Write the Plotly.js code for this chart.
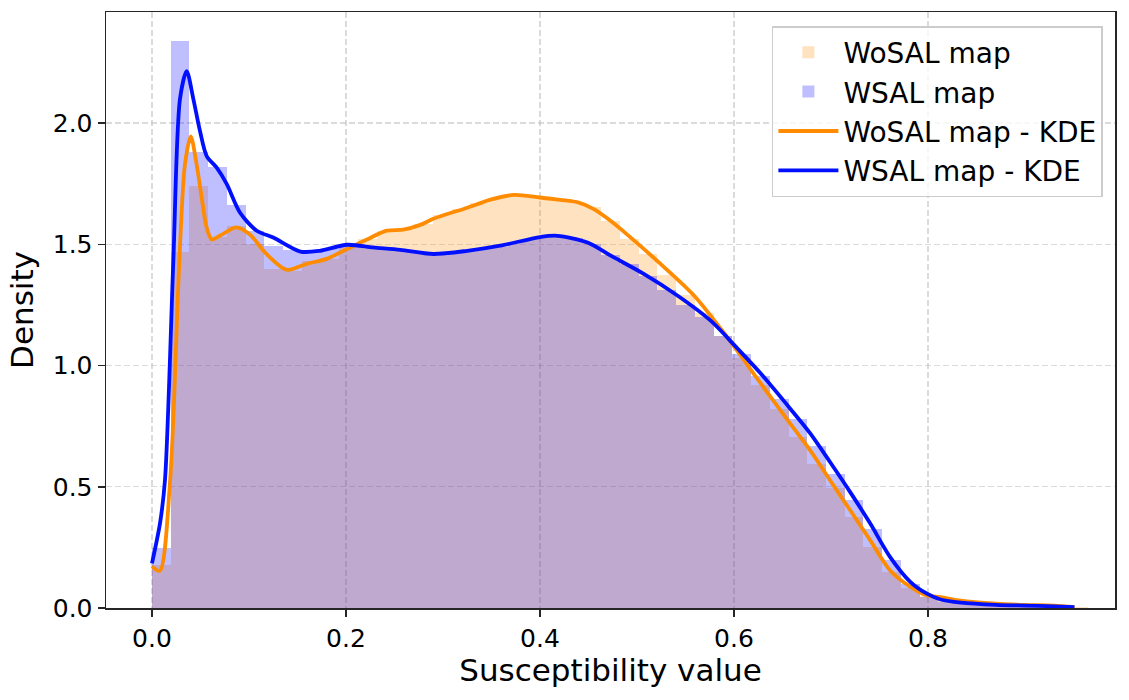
<!DOCTYPE html>
<html>
<head>
<meta charset="utf-8">
<script src="https://cdn.plot.ly/plotly-3.0.1.min.js"></script>
<style>
  html, body { margin: 0; padding: 0; background: #ffffff; }
  #chart { width: 1129px; height: 700px; }
</style>
</head>
<body>
<div id="chart"></div>
<script>
// ---- Data ----
const binWidth = 0.0193;
const binCount = 50;

const wosalHist = [
  0.177, 1.47, 1.74, 1.53, 1.576, 1.50, 1.40, 1.39, 1.43, 1.44,
  1.50, 1.52, 1.555, 1.56, 1.585, 1.62, 1.645, 1.67, 1.69, 1.705,
  1.695, 1.685, 1.676, 1.652, 1.595, 1.523, 1.458, 1.372, 1.29, 1.215,
  1.12, 1.03, 0.92, 0.82, 0.705, 0.595, 0.496, 0.375, 0.252, 0.148,
  0.084, 0.05, 0.035, 0.022, 0.015, 0.012, 0.01, 0.01, 0.008, 0.004
];

const wsalHist = [
  0.246, 2.337, 1.88, 1.82, 1.66, 1.556, 1.494, 1.475, 1.47, 1.48,
  1.50, 1.49, 1.48, 1.475, 1.465, 1.462, 1.47, 1.48, 1.49, 1.51,
  1.528, 1.535, 1.525, 1.50, 1.455, 1.42, 1.37, 1.31, 1.25, 1.20,
  1.12, 1.046, 0.955, 0.864, 0.778, 0.667, 0.551, 0.447, 0.325, 0.2,
  0.098, 0.045, 0.025, 0.016, 0.012, 0.009, 0.007, 0.006, 0.004, 0.002
];

const wosalKdeX = [0.000, 0.008, 0.0186, 0.0282, 0.034, 0.040, 0.046, 0.0513, 0.0564, 0.0616,
  0.070, 0.087, 0.101, 0.118, 0.139, 0.160, 0.180, 0.201, 0.2216, 0.242,
  0.259, 0.2766, 0.290, 0.325, 0.350, 0.373, 0.400, 0.421, 0.440, 0.4556,
  0.470, 0.490, 0.524, 0.559, 0.593, 0.6276, 0.658, 0.6786, 0.699, 0.7198,
  0.7405, 0.761, 0.782, 0.799, 0.813, 0.834, 0.870, 0.900, 0.930, 0.951];
const wosalKdeY = [0.172, 0.153, 0.52, 1.43, 1.83, 1.945, 1.83, 1.69, 1.569, 1.52,
  1.535, 1.57, 1.54, 1.46, 1.395, 1.42, 1.44, 1.48, 1.52, 1.556,
  1.56, 1.58, 1.605, 1.651, 1.685, 1.704, 1.693, 1.683, 1.672, 1.645,
  1.605, 1.54, 1.42, 1.288, 1.117, 0.926, 0.76, 0.65, 0.527, 0.403,
  0.279, 0.155, 0.087, 0.052, 0.045, 0.03, 0.018, 0.013, 0.01, 0.004];

const wsalKdeX = [0.000, 0.0083, 0.0134, 0.022, 0.0289, 0.0358, 0.0426, 0.0495, 0.0564, 0.0667,
  0.077, 0.0908, 0.108, 0.125, 0.153, 0.173, 0.201, 0.228, 0.256, 0.290,
  0.325, 0.359, 0.400, 0.418, 0.449, 0.473, 0.507, 0.542, 0.576, 0.6036,
  0.6276, 0.658, 0.6786, 0.699, 0.7198, 0.7405, 0.761, 0.782, 0.799, 0.813,
  0.834, 0.870, 0.900, 0.930, 0.951];
const wsalKdeY = [0.184, 0.35, 0.527, 1.43, 2.10, 2.214, 2.10, 1.967, 1.864, 1.816,
  1.749, 1.63, 1.556, 1.528, 1.47, 1.473, 1.498, 1.487, 1.477, 1.46,
  1.473, 1.494, 1.53, 1.535, 1.507, 1.453, 1.378, 1.288, 1.185, 1.07,
  0.967, 0.822, 0.72, 0.602, 0.478, 0.348, 0.21, 0.107, 0.059, 0.035,
  0.022, 0.013, 0.01, 0.007, 0.004];

const xTicks = [0, 0.2, 0.4, 0.6, 0.8];
const yTicks = [0, 0.5, 1.0, 1.5, 2.0];
const seriesNames = ['WoSAL map', 'WSAL map', 'WoSAL map - KDE', 'WSAL map - KDE'];

// bin centres built from bin width/count
const binCenters = [];
for (let k = 0; k < binCount; k++) binCenters.push((k + 0.5) * binWidth);

const FONT = 'DejaVu Sans, Liberation Sans, sans-serif';

const traces = [
  {
    type: 'bar', name: seriesNames[0], x: binCenters, y: wosalHist, width: binWidth,
    marker: { color: 'rgba(255,140,0,0.25)', line: { width: 0 } }
  },
  {
    type: 'bar', name: seriesNames[1], x: binCenters, y: wsalHist, width: binWidth,
    marker: { color: 'rgba(0,0,255,0.25)', line: { width: 0 } }
  },
  {
    type: 'scatter', mode: 'lines', name: seriesNames[2], x: wosalKdeX, y: wosalKdeY,
    line: { color: '#ff8c00', width: 3.8, shape: 'spline', smoothing: 0.8 }
  },
  {
    type: 'scatter', mode: 'lines', name: seriesNames[3], x: wsalKdeX, y: wsalKdeY,
    line: { color: '#0010ff', width: 3.8, shape: 'spline', smoothing: 0.8 }
  }
];

const axisCommon = {
  showline: true, linecolor: '#262626', linewidth: 1.5, mirror: true,
  ticks: 'outside', ticklen: 7, tickwidth: 1.5, tickcolor: '#262626',
  showgrid: true, gridcolor: 'rgba(190,190,190,0.55)', gridwidth: 1.2, griddash: '6px,3px',
  zeroline: false, tickfont: { family: FONT, size: 25, color: '#000000' },
  tickformat: '.1f'
};

const layout = {
  width: 1129, height: 700,
  margin: { l: 106, r: 14, t: 12, b: 92 },
  paper_bgcolor: '#ffffff', plot_bgcolor: '#ffffff',
  barmode: 'overlay', bargap: 0,
  font: { family: FONT, color: '#000000' },
  xaxis: Object.assign({}, axisCommon, {
    range: [-0.0474, 0.9928], tickvals: xTicks,
    title: { text: 'Susceptibility value', font: { family: FONT, size: 31, color: '#000000' }, standoff: 8 }
  }),
  yaxis: Object.assign({}, axisCommon, {
    range: [0, 2.458], tickvals: yTicks,
    title: { text: 'Density', font: { family: FONT, size: 31, color: '#000000' }, standoff: 10 }
  }),
  legend: {
    x: 0.988, xanchor: 'right', y: 0.9765, yanchor: 'top',
    bgcolor: 'rgba(255,255,255,0.8)', bordercolor: '#cccccc', borderwidth: 1.5,
    font: { family: FONT, size: 28, color: '#000000' },
    itemwidth: 60, tracegroupgap: 0
  },
  showlegend: true
};

Plotly.newPlot('chart', traces, layout, { displayModeBar: false, staticPlot: true });
</script>
</body>
</html>
